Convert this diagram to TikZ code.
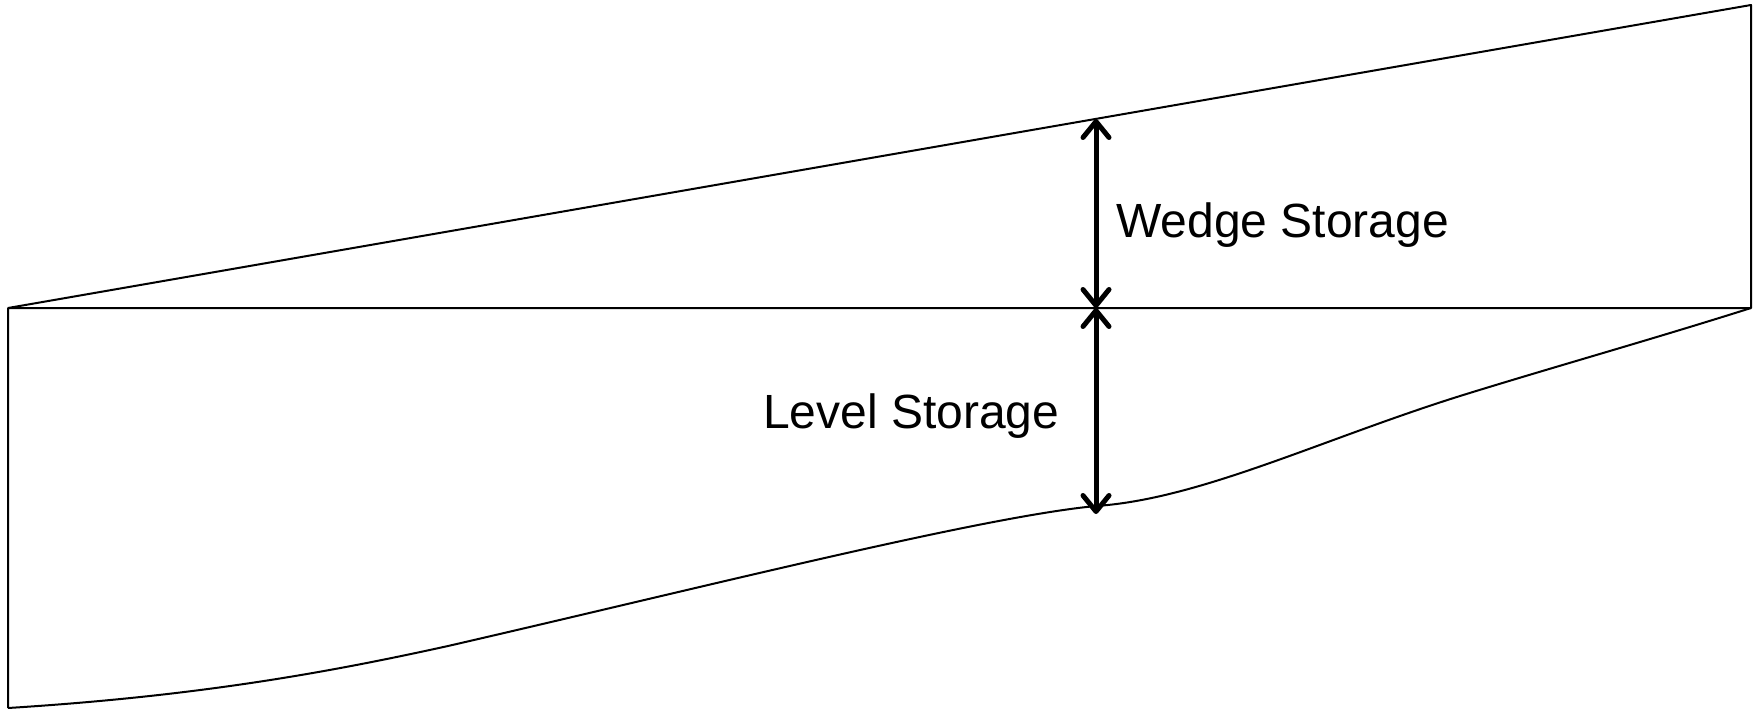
\documentclass[tikz,border=0pt]{standalone}
\usepackage{fontspec}
\setmainfont{Liberation Sans}
\usetikzlibrary{arrows.meta}
\begin{document}
\begin{tikzpicture}[x=1pt,y=-1pt,
  edge/.style={line width=2pt,line join=round},
  dim/.style={line width=5pt,{Straight Barb[length=16pt,width=26pt,line cap=round,line join=round]}-{Straight Barb[length=16pt,width=26pt,line cap=round,line join=round]}},
  lbl/.style={font=\fontsize{48}{48}\selectfont,inner sep=0pt,anchor=base west}]
\useasboundingbox (0,0) rectangle (1758,709);
% reach outline
\coordinate (tl) at (8,308);
\coordinate (tr) at (1751,5);
\coordinate (mr) at (1751,308);
\coordinate (bl) at (8,708);
% measurement points
\coordinate (wtop) at (1096,119);
\coordinate (wmid) at (1096,308);
\coordinate (lbot) at (1096,514);
% water surface, prism line and sides
\draw[edge] (tl) -- (tr) -- (mr) -- (tl) -- (bl);
% channel bed
\draw[edge] (bl) .. controls (200,696) and (330,672) .. (448,646)
  .. controls (700,588) and (980,517) .. (1096,506)
  .. controls (1200,499) and (1320,440) .. (1460,396)
  .. controls (1550,368) and (1650,340) .. (mr);
% storage dimensions
\draw[dim] (wmid) -- (wtop);
\draw[dim] (wmid) -- (lbot);
\node[lbl] (wedge) at (1116,237) {Wedge Storage};
\node[lbl] (level) at (763,428) {Level Storage};
\end{tikzpicture}
\end{document}
